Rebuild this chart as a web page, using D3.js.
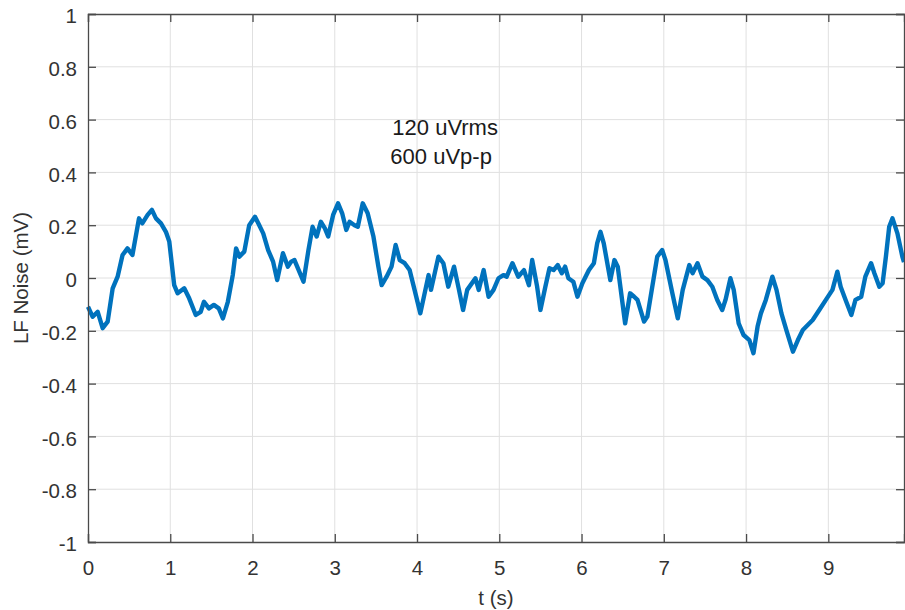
<!DOCTYPE html>
<html>
<head>
<meta charset="utf-8">
<script src="https://cdn.jsdelivr.net/npm/d3@7"></script>
<style>
  body { margin: 0; background: #fff; }
  svg { display: block; font-family: "Liberation Sans", Arial, Helvetica, sans-serif; }
  .grid line { stroke: #e0e0e0; stroke-width: 1; }
  .tick text { fill: #333; font-size: 20.5px; }
</style>
</head>
<body>
<svg id="chart" width="905" height="610"></svg>
<script>
// sample times (s) and LF noise (mV)
const timeS = [
  0, 0.057, 0.118, 0.178, 0.239, 0.30, 0.36, 0.42, 0.48, 0.54, 0.62, 0.66, 0.725, 0.777, 0.826, 0.887, 0.947, 0.988,
  1.048, 1.09, 1.17, 1.23, 1.31, 1.37, 1.41, 1.47, 1.53, 1.59, 1.64, 1.70, 1.76, 1.80, 1.84, 1.90, 1.96,
  2.03, 2.07, 2.13, 2.19, 2.25, 2.30, 2.37, 2.43, 2.47, 2.51, 2.62, 2.68, 2.73, 2.78, 2.83, 2.88, 2.92, 2.98,
  3.04, 3.09, 3.14, 3.18, 3.24, 3.28, 3.34, 3.40, 3.47, 3.53, 3.57, 3.63, 3.69, 3.74, 3.79, 3.85, 3.91, 3.97,
  4.04, 4.14, 4.17, 4.26, 4.32, 4.38, 4.45, 4.51, 4.56, 4.61, 4.71, 4.75, 4.81, 4.87, 4.93, 4.99,
  5.05, 5.09, 5.16, 5.23, 5.30, 5.36, 5.40, 5.46, 5.50, 5.56, 5.61, 5.66, 5.71, 5.76, 5.80, 5.84, 5.90, 5.95,
  6.01, 6.09, 6.15, 6.19, 6.23, 6.27, 6.35, 6.40, 6.44, 6.53, 6.59, 6.64, 6.68, 6.76, 6.80, 6.86, 6.92, 6.98,
  7.02, 7.10, 7.17, 7.23, 7.31, 7.35, 7.41, 7.47, 7.53, 7.59, 7.65, 7.71, 7.75, 7.81, 7.85, 7.91, 7.97,
  8.04, 8.09, 8.14, 8.18, 8.24, 8.32, 8.37, 8.43, 8.49, 8.57, 8.63, 8.69, 8.75, 8.81, 8.89, 8.97,
  9.05, 9.11, 9.15, 9.21, 9.28, 9.33, 9.40, 9.45, 9.52, 9.56, 9.62, 9.66, 9.70, 9.74, 9.78, 9.84, 9.90, 9.92
];
const noiseMv = [
  -0.109, -0.147, -0.128, -0.19, -0.165, -0.039, 0.005, 0.087, 0.112, 0.087, 0.226, 0.207, 0.239, 0.258, 0.226, 0.207, 0.175, 0.138,
  -0.027, -0.058, -0.039, -0.077, -0.14, -0.128, -0.09, -0.115, -0.102, -0.115, -0.153, -0.09, 0.011, 0.112, 0.081, 0.1, 0.2,
  0.232, 0.207, 0.169, 0.106, 0.062, -0.008, 0.094, 0.043, 0.062, 0.068, -0.014, 0.106, 0.194, 0.157, 0.213, 0.188, 0.157, 0.239,
  0.283, 0.245, 0.182, 0.213, 0.2, 0.194, 0.283, 0.245, 0.157, 0.043, -0.027, 0.005, 0.043, 0.125, 0.068, 0.056, 0.03, -0.045,
  -0.134, 0.011, -0.045, 0.081, 0.056, -0.033, 0.043, -0.045, -0.121, -0.045, -0.001, -0.045, 0.03, -0.071, -0.045, -0.001,
  0.011, 0.005, 0.056, 0.005, 0.03, -0.027, 0.068, -0.033, -0.121, -0.033, 0.037, 0.03, 0.049, 0.018, 0.043, -0.001, -0.014, -0.071,
  -0.02, 0.03, 0.056, 0.131, 0.175, 0.131, -0.008, 0.068, 0.043, -0.172, -0.058, -0.071, -0.083, -0.165, -0.146, -0.033, 0.081, 0.106,
  0.068, -0.052, -0.153, -0.045, 0.049, 0.018, 0.056, 0.005, -0.008, -0.033, -0.083, -0.121, -0.083, -0.001, -0.045, -0.172, -0.216,
  -0.235, -0.285, -0.184, -0.134, -0.083, 0.005, -0.045, -0.134, -0.197, -0.279, -0.235, -0.197, -0.178, -0.159, -0.121, -0.083,
  -0.045, 0.024, -0.033, -0.083, -0.14, -0.083, -0.071, 0.005, 0.056, 0.018, -0.033, -0.02, 0.081, 0.194, 0.226, 0.169, 0.081, 0.06
];
const xTicks = [0, 1, 2, 3, 4, 5, 6, 7, 8, 9];
const yTicks = [-1, -0.8, -0.6, -0.4, -0.2, 0, 0.2, 0.4, 0.6, 0.8, 1];
const notes = ["120 uVrms", "600 uVp-p"];

const svg = d3.select("#chart");
const margin = { top: 14, right: 1, bottom: 68, left: 88 };
const width = 905 - margin.left - margin.right;
const height = 610 - margin.top - margin.bottom;

const x = d3.scaleLinear().domain([0, 9.92]).range([0, width]);
const y = d3.scaleLinear().domain([-1, 1]).range([height, 0]);

const g = svg.append("g").attr("transform", `translate(${margin.left},${margin.top})`);

// grid
const grid = g.append("g").attr("class", "grid");
grid.selectAll(".gx").data(xTicks.slice(1)).join("line")
  .attr("x1", d => x(d)).attr("x2", d => x(d)).attr("y1", 0).attr("y2", height);
grid.selectAll(".gy").data(yTicks.slice(1, -1)).join("line")
  .attr("x1", 0).attr("x2", width).attr("y1", d => y(d)).attr("y2", d => y(d));

// trace
const line = d3.line().x((d, i) => x(timeS[i])).y(d => y(d));
g.append("path")
  .datum(noiseMv)
  .attr("fill", "none")
  .attr("stroke", "#0072BD")
  .attr("stroke-width", 4.4)
  .attr("stroke-linejoin", "round")
  .attr("d", line);

// axes, ticks pointing inward like MATLAB
const axisColor = "#4a4a4a";
const fmt = d => String(d);
const axBottom = g.append("g").attr("transform", `translate(0,${height})`)
  .call(d3.axisBottom(x).tickValues(xTicks).tickSize(-8).tickPadding(18).tickFormat(fmt));
const axLeft = g.append("g")
  .call(d3.axisLeft(y).tickValues(yTicks).tickSize(-8).tickPadding(11).tickFormat(fmt));
const axTop = g.append("g")
  .call(d3.axisTop(x).tickValues(xTicks).tickSize(-8).tickFormat(""));
const axRight = g.append("g").attr("transform", `translate(${width},0)`)
  .call(d3.axisRight(y).tickValues(yTicks).tickSize(-8).tickFormat(""));

[axBottom, axLeft, axTop, axRight].forEach(a => {
  a.select(".domain").attr("stroke", axisColor).attr("stroke-width", 1.3);
  a.selectAll(".tick line").attr("stroke", axisColor).attr("stroke-width", 1.3);
  a.selectAll(".tick text").attr("font-family", null).attr("font-size", null);
});
axBottom.selectAll(".tick text").attr("dy", "0.71em");
axLeft.selectAll(".tick text").attr("dy", "0.42em");

// labels
svg.append("text")
  .attr("x", 496).attr("y", 605)
  .attr("text-anchor", "middle").attr("fill", "#333").attr("font-size", 20.5)
  .text("t (s)");
svg.append("text")
  .attr("transform", `translate(28,${margin.top + y(0)}) rotate(-90)`)
  .attr("text-anchor", "middle").attr("fill", "#333").attr("font-size", 20.5)
  .text("LF Noise (mV)");

// annotation
g.selectAll(".note").data(notes).join("text")
  .attr("class", "note")
  .attr("x", (d, i) => x(3.7) - i * 2)
  .attr("y", (d, i) => y(0.54) + i * 29)
  .attr("fill", "#1a1a1a").attr("font-size", 22)
  .text(d => d);
</script>
</body>
</html>
